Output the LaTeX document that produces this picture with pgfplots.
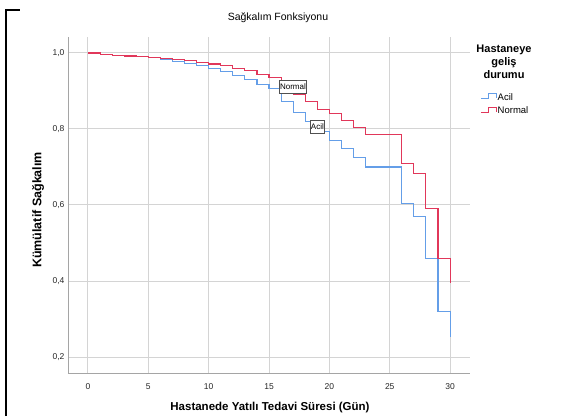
\documentclass[border=0pt]{standalone}
\usepackage{pgfplots}
\pgfplotsset{compat=1.18}
\usepackage{pgfplotstable}
\usepackage{fontspec}
\setmainfont{Liberation Sans}
\definecolor{acilc}{RGB}{100,158,232}
\definecolor{normalc}{RGB}{225,55,90}
\definecolor{gridc}{RGB}{212,212,212}
\definecolor{axc}{RGB}{165,165,165}
\definecolor{boxc}{RGB}{80,80,80}

\pgfplotstableread{
t s
0 1.000
1 0.996
2 0.993
3 0.991
4 0.990
5 0.987
6 0.984
7 0.977
8 0.973
9 0.967
10 0.959
11 0.952
12 0.940
13 0.929
14 0.918
15 0.906
16 0.872
17 0.844
18 0.819
19 0.794
20 0.770
21 0.749
22 0.726
23 0.700
26 0.603
27 0.570
28 0.460
29 0.319
30 0.253
}\acildata

\pgfplotstableread{
t s
0 1.000
1 0.997
2 0.994
3 0.992
4 0.990
5 0.988
6 0.986
7 0.983
8 0.979
9 0.976
10 0.971
11 0.967
12 0.960
13 0.953
14 0.944
15 0.936
16 0.913
17 0.891
18 0.872
19 0.852
20 0.841
21 0.822
22 0.805
23 0.785
26 0.710
27 0.684
28 0.590
29 0.460
30 0.394
}\normaldata

\begin{document}
\begin{tikzpicture}[x=1pt,y=1pt]
\path[use as bounding box] (0,0) rectangle (574,416);
\draw[black, line width=2.2pt] (6,0) -- (6,406) -- (20,406);
\begin{axis}[
  at={(68pt,43pt)}, anchor=south west,
  scale only axis, width=402pt, height=336pt,
  xmin=-1.657, xmax=31.65, ymin=0.158, ymax=1.042,
  axis x line*=bottom, axis y line*=left,
  axis line style={axc, line width=0.9pt, -},
  xtick={0,5,...,30}, ytick={0.2,0.4,0.6,0.8,1.0},
  grid=major, major grid style={gridc, line width=1pt},
  major tick length=0pt,
  tick label style={font=\fontsize{8.5}{10}\selectfont, text=black!85},
  /pgf/number format/assume math mode=true,
  yticklabel style={/pgf/number format/.cd, use comma, fixed, fixed zerofill, precision=1},
  xticklabel shift=7.5pt,
]
\addplot[const plot, draw=acilc, line width=1.1pt, line join=miter] table[x=t, y=s] {\acildata};
\addplot[const plot, draw=normalc, line width=1.1pt, line join=miter] table[x=t, y=s] {\normaldata};
\coordinate (nl) at (axis cs:16.98,0.9105);
\coordinate (al) at (axis cs:19.01,0.8066);
\end{axis}
\node[draw=boxc, fill=white, line width=0.8pt, inner xsep=1pt, minimum height=13pt, font=\fontsize{8}{9}\selectfont] at (nl) {Normal};
\node[draw=boxc, fill=white, line width=0.8pt, inner xsep=1pt, minimum height=13pt, font=\fontsize{8}{9}\selectfont] at (al) {Acil};
% title and axis labels
\node[font=\fontsize{10.5}{12}\selectfont] at (278,398) {Sağkalım Fonksiyonu};
\node[font=\fontsize{12.5}{14}\selectfont\bfseries, rotate=90] at (38,206) {Kümülatif Sağkalım};
\node[font=\fontsize{11.5}{13}\selectfont\bfseries] at (270,8) {Hastanede Yatılı Tedavi Süresi (Gün)};
% legend
\node[font=\fontsize{11}{13}\selectfont\bfseries, align=center, anchor=north] at (504,375) {Hastaneye\\geliş\\durumu};
\draw[acilc, line width=0.9pt] (481,317.5) -- (488,317.5) -- (488,322.5) -- (496,322.5) -- (496,317.5);
\draw[normalc, line width=0.9pt] (481,304) -- (488,304) -- (488,309) -- (496,309) -- (496,304);
\node[font=\fontsize{9.5}{11}\selectfont, anchor=west, inner sep=0pt] at (497.5,319.3) {Acil};
\node[font=\fontsize{9.5}{11}\selectfont, anchor=west, inner sep=0pt] at (497.5,306) {Normal};
\end{tikzpicture}
\end{document}
